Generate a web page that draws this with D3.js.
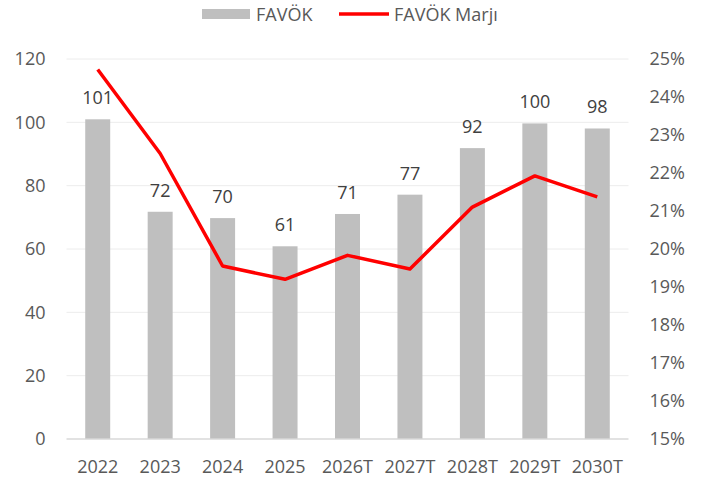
<!DOCTYPE html>
<html>
<head>
<meta charset="utf-8">
<script src="https://cdn.jsdelivr.net/npm/d3@7"></script>
<style>
  body { margin: 0; background: #fff; }
  text { font-family: "Open Sans", sans-serif; fill: #595959; }
</style>
</head>
<body>
<div id="chart"></div>
<script>
// data
const years = ['2022', '2023', '2024', '2025', '2026T', '2027T', '2028T', '2029T', '2030T'];
const favok = [100.8, 71.6, 69.6, 60.7, 70.9, 77.0, 91.7, 99.5, 97.9];
const marj = [0.2471, 0.2250, 0.1954, 0.1919, 0.1982, 0.1946, 0.2109, 0.2191, 0.2136];
const leftTicks = [0, 20, 40, 60, 80, 100, 120];
const rightTicks = [0.15, 0.16, 0.17, 0.18, 0.19, 0.20, 0.21, 0.22, 0.23, 0.24, 0.25];

const width = 718;
const height = 483;
const plot = { left: 66.5, right: 628.5, top: 58.5, bottom: 438.5 };

const svg = d3.select('#chart')
    .append('svg')
    .attr('width', width)
    .attr('height', height);

const x = d3.scaleBand()
    .domain(years)
    .range([plot.left, plot.right])
    .paddingInner(0.6)
    .paddingOuter(0.3);

const yLeft = d3.scaleLinear()
    .domain([0, 120])
    .range([plot.bottom, plot.top]);

const yRight = d3.scaleLinear()
    .domain([0.15, 0.25])
    .range([plot.bottom, plot.top]);

/* gridlines + left axis */
const leftAxis = svg.append('g')
    .attr('transform', `translate(${plot.left},0)`)
    .call(d3.axisLeft(yLeft).tickValues(leftTicks).tickSize(-(plot.right - plot.left)).tickPadding(21));
leftAxis.select('.domain').remove();
leftAxis.selectAll('line')
    .attr('stroke', d => d === 0 ? '#d9d9d9' : '#ececec')
    .attr('stroke-width', d => d === 0 ? 1.5 : 1);
leftAxis.selectAll('text')
    .style('font-size', '18px')
    .attr('dy', '0.35em');

/* right axis */
const rightAxis = svg.append('g')
    .attr('transform', `translate(${plot.right},0)`)
    .call(d3.axisRight(yRight).tickValues(rightTicks).tickFormat(d3.format('.0%')).tickSize(0).tickPadding(21));
rightAxis.select('.domain').remove();
rightAxis.selectAll('text')
    .style('font-size', '18px')
    .attr('dy', '0.35em');

/* bars */
svg.selectAll('.bar')
    .data(favok)
    .enter()
    .append('rect')
    .attr('class', 'bar')
    .attr('x', (d, i) => x(years[i]))
    .attr('y', d => yLeft(d))
    .attr('width', x.bandwidth())
    .attr('height', d => plot.bottom - yLeft(d))
    .attr('fill', '#bfbfbf');

/* bar labels */
svg.selectAll('.bar-label')
    .data(favok)
    .enter()
    .append('text')
    .attr('class', 'bar-label')
    .attr('x', (d, i) => x(years[i]) + x.bandwidth() / 2)
    .attr('y', d => yLeft(d) - 15)
    .attr('text-anchor', 'middle')
    .style('font-size', '18px')
    .style('fill', '#404040')
    .text(d => Math.round(d));

/* x axis labels */
const xAxis = svg.append('g')
    .attr('transform', `translate(0,${plot.bottom})`)
    .call(d3.axisBottom(x).tickSize(0).tickPadding(22));
xAxis.select('.domain').remove();
xAxis.selectAll('text')
    .style('font-size', '18px')
    .attr('dy', '0.71em');

/* margin line */
const line = d3.line()
    .x((d, i) => x(years[i]) + x.bandwidth() / 2)
    .y(d => yRight(d));

svg.append('path')
    .datum(marj)
    .attr('fill', 'none')
    .attr('stroke', '#ff0000')
    .attr('stroke-width', 3.5)
    .attr('stroke-linejoin', 'round')
    .attr('d', line);

/* legend */
svg.append('rect')
    .attr('x', 202)
    .attr('y', 9)
    .attr('width', 48)
    .attr('height', 10)
    .attr('fill', '#bfbfbf');
svg.append('text')
    .attr('x', 256)
    .attr('y', 20.5)
    .style('font-size', '18px')
    .text('FAVÖK');
svg.append('line')
    .attr('x1', 339)
    .attr('x2', 389)
    .attr('y1', 14)
    .attr('y2', 14)
    .attr('stroke', '#ff0000')
    .attr('stroke-width', 3.5);
svg.append('text')
    .attr('x', 394)
    .attr('y', 20.5)
    .style('font-size', '18px')
    .text('FAVÖK Marjı');
</script>
</body>
</html>
